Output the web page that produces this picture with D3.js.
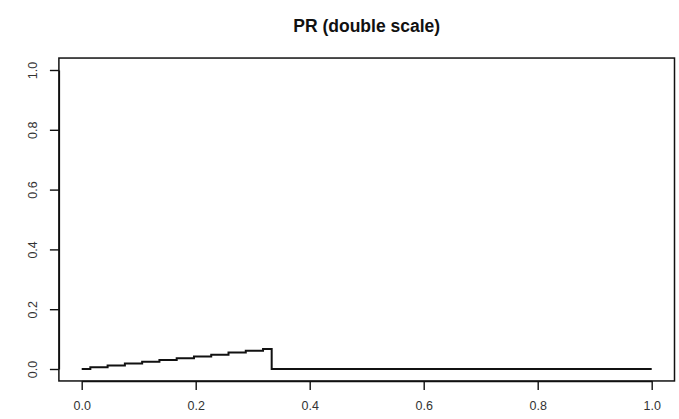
<!DOCTYPE html>
<html>
<head>
<meta charset="utf-8">
<script src="https://cdn.jsdelivr.net/npm/d3@7"></script>
<style>
  html, body { margin: 0; padding: 0; background: #fff; }
  svg { display: block; }
  text { font-family: "Liberation Sans", Arial, sans-serif; }
</style>
</head>
<body>
<svg id="chart" width="679" height="419"></svg>
<script>
// Recall (x) and precision (y) along the curve
const recall = [0, 0.0303, 0.0606, 0.0909, 0.1212, 0.1515, 0.1818, 0.2121, 0.2424, 0.2727, 0.3030, 0.3333, 0.3333, 1.0];
const precision = [0, 0.006, 0.012, 0.018, 0.024, 0.030, 0.036, 0.042, 0.048, 0.055, 0.061, 0.067, 0, 0];
const xTicks = [0, 0.2, 0.4, 0.6, 0.8, 1.0];
const yTicks = [0, 0.2, 0.4, 0.6, 0.8, 1.0];
const title = "PR (double scale)";

const svg = d3.select("#chart");

// Data range [0,1] on both axes, plot box padded by 4% like base graphics
const x = d3.scaleLinear().domain([0, 1]).range([81.7, 651.7]);
const y = d3.scaleLinear().domain([0, 1]).range([369, 70]);
const pad = 0.04;
const boxL = x(-pad), boxR = x(1 + pad), boxT = y(1 + pad), boxB = y(-pad);

// Title
svg.append("text")
  .attr("x", (boxL + boxR) / 2)
  .attr("y", 32)
  .attr("text-anchor", "middle")
  .attr("font-weight", "bold")
  .attr("font-size", 17.5)
  .attr("fill", "#111")
  .text(title);

// Bottom axis
const xAxis = d3.axisBottom(x)
  .tickValues(xTicks)
  .tickFormat(d3.format(".1f"))
  .tickSizeInner(9)
  .tickSizeOuter(0)
  .tickPadding(11);
const gx = svg.append("g").attr("transform", `translate(0,${boxB})`).call(xAxis);
gx.selectAll("text").attr("font-size", 12.5).attr("fill", "#333").attr("font-family", "'Liberation Sans', Arial, sans-serif");

// Left axis with rotated labels
const yAxis = d3.axisLeft(y)
  .tickValues(yTicks)
  .tickFormat(d3.format(".1f"))
  .tickSizeInner(9)
  .tickSizeOuter(0);
const gy = svg.append("g").attr("transform", `translate(${boxL},0)`).call(yAxis);
gy.selectAll(".tick text")
  .attr("transform", "rotate(-90)")
  .attr("x", 0)
  .attr("y", -21.5)
  .attr("dy", 0)
  .attr("text-anchor", "middle")
  .attr("font-size", 12.5)
  .attr("fill", "#333")
  .attr("font-family", "'Liberation Sans', Arial, sans-serif");

svg.selectAll(".domain, .tick line").attr("stroke", "#111").attr("stroke-width", 1.4);

// Plot box
svg.append("rect")
  .attr("x", boxL).attr("y", boxT)
  .attr("width", boxR - boxL).attr("height", boxB - boxT)
  .attr("fill", "none").attr("stroke", "#111").attr("stroke-width", 1.5);

// Stepped precision-recall curve
const pts = recall.map((r, i) => [r, precision[i]]);
const line = d3.line()
  .x(d => x(d[0]))
  .y(d => y(d[1]))
  .curve(d3.curveStep);
svg.append("path")
  .datum(pts)
  .attr("d", line)
  .attr("fill", "none")
  .attr("stroke", "#111")
  .attr("stroke-width", 2);
</script>
</body>
</html>
